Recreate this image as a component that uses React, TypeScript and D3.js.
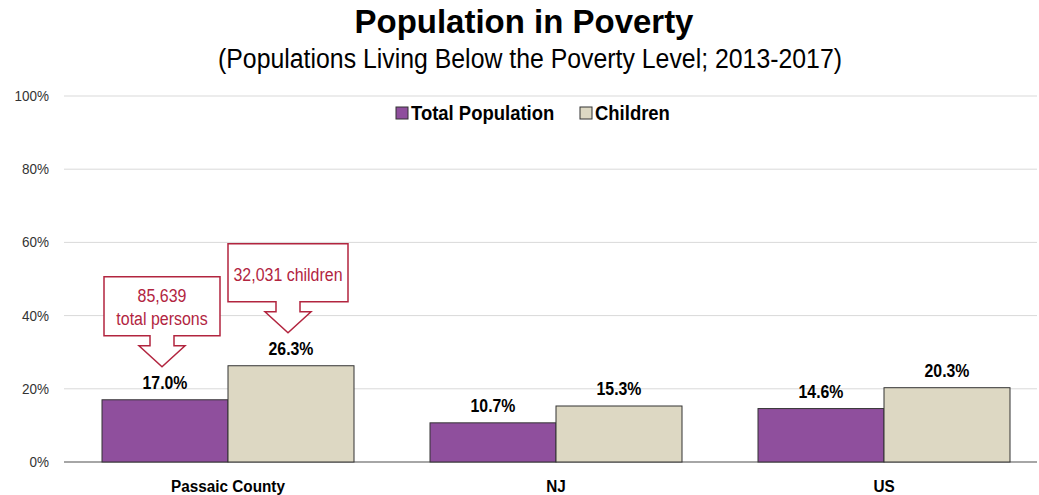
import React from "react";
import * as d3 from "d3";

const categories = ["Passaic County", "NJ", "US"];
const seriesNames = ["Total Population", "Children"];
const totalPopulation = [17.0, 10.7, 14.6];
const children = [26.3, 15.3, 20.3];
const yTicks = [0, 20, 40, 60, 80, 100];
const colors = ["#8f4f9d", "#ddd8c3"];
const callouts = [
  { cat: "Passaic County", series: 0, lines: ["85,639", "total persons"] },
  { cat: "Passaic County", series: 1, lines: ["32,031 children"] },
];

const W = 1039;
const H = 495;
const sans = "'Liberation Sans', Arial, sans-serif";

function NText(props: { x: number; y: number; sx: number; anchor?: string; size: number; bold?: boolean; fill?: string; children: React.ReactNode }) {
  const { x, y, sx, anchor = "start", size, bold, fill = "#000", children } = props;
  return (
    <g transform={`translate(${x},${y}) scale(${sx},1)`}>
      <text x={0} y={0} textAnchor={anchor} fontFamily={sans} fontWeight={bold ? "bold" : "normal"} fontSize={size} fill={fill}>{children}</text>
    </g>
  );
}

export default function App() {
  const x0 = d3.scaleBand<string>().domain(categories).range([64, 1048]).paddingInner(76 / 328).paddingOuter(38 / 328);
  const x1 = d3.scaleBand<number>().domain([0, 1]).range([0, x0.bandwidth()]);
  const y = d3.scaleLinear().domain([0, 100]).range([462, 96]);
  const series = [totalPopulation, children];

  const calloutShape = (cx: number, tipY: number, boxW: number, boxH: number) => {
    const headH = 21, headHalf = 23, neckHalf = 12, neckLen = 10;
    const boxBottom = tipY - headH - neckLen;
    const boxTop = boxBottom - boxH;
    const l = cx - boxW / 2, r = cx + boxW / 2;
    const pts = [
      [l, boxTop], [r, boxTop], [r, boxBottom], [cx + neckHalf, boxBottom],
      [cx + neckHalf, boxBottom + neckLen], [cx + headHalf, boxBottom + neckLen], [cx, tipY],
      [cx - headHalf, boxBottom + neckLen], [cx - neckHalf, boxBottom + neckLen],
      [cx - neckHalf, boxBottom], [l, boxBottom],
    ];
    return { d: d3.line()(pts as [number, number][]) + "Z", boxTop, boxBottom };
  };

  return (
    <svg width={W} height={H} style={{ position: "absolute", left: 0, top: 0, background: "#fff" }}>
      <NText x={524} y={33} sx={0.97} anchor="middle" size={34} bold>Population in Poverty</NText>
      <NText x={530} y={68} sx={0.92} anchor="middle" size={27}>(Populations Living Below the Poverty Level; 2013-2017)</NText>

      {yTicks.map((t) => (
        <g key={t}>
          <line x1={64} x2={1037} y1={y(t)} y2={y(t)} stroke={t === 0 ? "#a6a6a6" : "#d9d9d9"} strokeWidth={t === 0 ? 2 : 1} />
          <NText x={49} y={y(t) + 5} sx={0.9} anchor="end" size={15} fill="#333">{t}%</NText>
        </g>
      ))}

      {categories.map((c, i) => (
        <g key={c} transform={`translate(${x0(c)},0)`}>
          {series.map((s, j) => (
            <g key={j}>
              <rect x={x1(j)} y={y(s[i])} width={x1.bandwidth()} height={y(0) - y(s[i])} fill={colors[j]} stroke="#333" strokeWidth={1} />
              <NText x={(x1(j) as number) + x1.bandwidth() / 2} y={y(s[i]) - 11} sx={0.88} anchor="middle" size={18} bold>{s[i].toFixed(1)}%</NText>
            </g>
          ))}
          <NText x={x0.bandwidth() / 2} y={492} sx={0.9} anchor="middle" size={17} bold>{c}</NText>
        </g>
      ))}

      {callouts.map((co, k) => {
        const i = categories.indexOf(co.cat);
        const v = series[co.series][i];
        const cx = (x0(co.cat) as number) + (x1(co.series) as number) + x1.bandwidth() / 2 - 3;
        const tipY = y(v) - 33;
        const boxW = co.lines.length > 1 ? 116 : 120;
        const boxH = co.lines.length > 1 ? 59 : 58;
        const { d, boxTop } = calloutShape(cx, tipY, boxW, boxH);
        const startY = co.lines.length > 1 ? boxTop + 25 : boxTop + 37;
        return (
          <g key={k}>
            <path d={d} fill="#fff" stroke="#b2253f" strokeWidth={1.5} />
            {co.lines.map((ln, m) => (
              <NText key={m} x={cx} y={startY + m * 23} sx={0.84} anchor="middle" size={19} fill="#b2253f">{ln}</NText>
            ))}
          </g>
        );
      })}

      <g>
        {seriesNames.map((n, j) => {
          const lx = j === 0 ? 396 : 580;
          return (
            <g key={n}>
              <rect x={lx} y={107} width={12} height={12} fill={colors[j]} stroke="#333" strokeWidth={1} />
              <NText x={lx + 15} y={120} sx={0.88} size={21} bold>{n}</NText>
            </g>
          );
        })}
      </g>
    </svg>
  );
}
